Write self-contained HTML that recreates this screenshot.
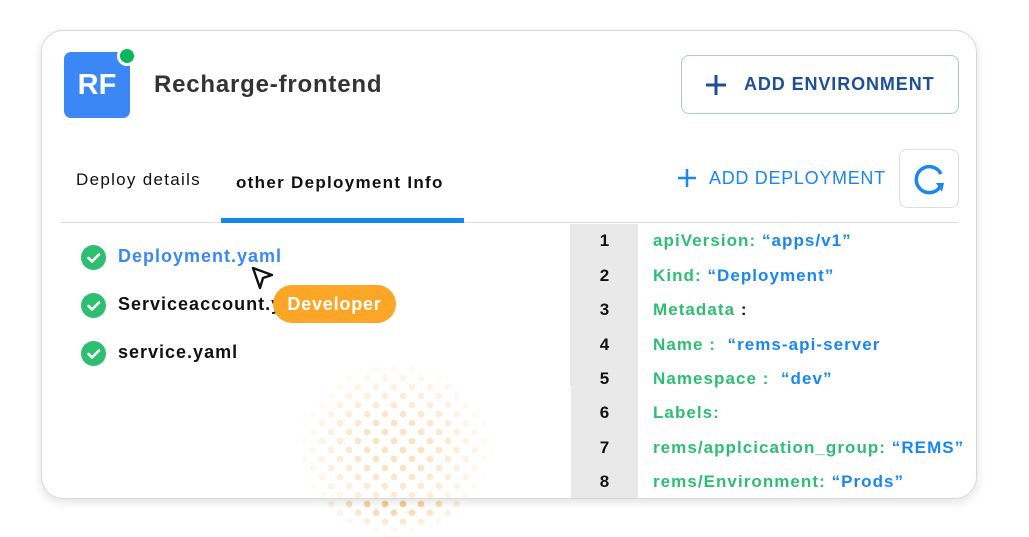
<!DOCTYPE html>
<html><head><style>
*{margin:0;padding:0;box-sizing:border-box}
body{width:1029px;height:537px;background:#fff;position:relative;overflow:hidden;font-family:"Liberation Sans",sans-serif}
.dots{position:absolute;left:295px;top:360px;width:200px;height:175px;
background-image:radial-gradient(circle,#f3a640 0 3px,transparent 3.6px),radial-gradient(circle,#f3a640 0 3px,transparent 3.6px);
background-size:18px 18px;background-position:0 0,9px 9px;
-webkit-mask-image:radial-gradient(ellipse 50% 50% at 50% 50%,#000 30%,rgba(0,0,0,.5) 70%,transparent 100%);
mask-image:radial-gradient(ellipse 50% 50% at 50% 50%,#000 30%,rgba(0,0,0,.5) 70%,transparent 100%)}
.card{position:absolute;left:41px;top:30px;width:936px;height:469px;border:1px solid #d8d8d8;border-radius:22px;background:rgba(255,255,255,.68);box-shadow:0 3px 10px rgba(0,0,0,.12);overflow:hidden}
.a{position:absolute}
.logo{left:22px;top:21px;width:66px;height:66px;background:#3b87f6;border-radius:7px;color:#fff;font-weight:bold;font-size:29px;text-align:center;line-height:66px}
.dot{left:75px;top:15px;width:20px;height:20px;border-radius:50%;background:#0bb55d;border:3px solid #fff}
.title{left:112px;top:40px;font-size:24px;color:#333;font-weight:600;letter-spacing:.8px}
.btn1{left:639px;top:24px;width:278px;height:59px;border:1.5px solid #a9c6ee;border-radius:8px;color:#1e4e98;font-weight:bold;font-size:18px;line-height:56px;letter-spacing:.9px}
.tab{font-size:17px;color:#111;white-space:nowrap}
.line{left:18px;top:191px;width:898px;height:1px;background:#ddd}
.ul{left:179px;top:187px;width:243px;height:5px;background:#1188f0}
.ref{left:857px;top:118px;width:60px;height:59px;border:1.5px solid #ddd;border-radius:8px}
.chk{width:25px;height:25px;border-radius:50%;background:#2dbe73}
.f{font-size:18px;font-weight:600;color:#111;letter-spacing:1px;white-space:nowrap}
.gut{left:529px;top:193px;width:67px;height:280px;background:#e9e9e9}
.vl{left:528px;top:193px;width:2px;height:162px;background:#e5e5e5}
.n{left:529px;width:67px;text-align:center;font-size:17px;font-weight:bold;color:#111}
.c{left:611px;font-size:17px;font-weight:600;color:#2dbe73;white-space:nowrap;letter-spacing:1.05px}
.c b{color:#1a86ee;font-weight:600}
.dev{left:231px;top:254px;width:123px;height:38px;border-radius:19px;background:#fca627;color:#fff;font-size:18px;font-weight:600;text-align:center;line-height:38px;letter-spacing:.8px}
</style></head><body>
<div class="dots"></div>
<div class="card">
<div class="a logo">RF</div><div class="a dot"></div>
<div class="a title">Recharge-frontend</div>
<div class="a btn1"><svg style="position:absolute;left:23px;top:18px" width="22" height="22"><path d="M11 1V21M1 11H21" stroke="#1e4e98" stroke-width="3"/></svg><span style="position:absolute;left:62px">ADD ENVIRONMENT</span></div>
<div class="a tab" style="left:34px;top:139px;letter-spacing:1.3px">Deploy details</div>
<div class="a tab" style="left:194px;top:142px;font-weight:600;letter-spacing:1.3px">other Deployment Info</div>
<div class="a" style="left:636px;top:137px;color:#1a86ee;font-size:18px"><svg style="position:absolute;left:0;top:1px" width="18" height="18"><path d="M9 0V18M0 9H18" stroke="#1a86ee" stroke-width="2.5"/></svg><span style="position:absolute;left:31px;white-space:nowrap;letter-spacing:.7px">ADD DEPLOYMENT</span></div>
<div class="a ref"><svg width="60" height="59" viewBox="0 0 60 59"><path d="M40 37 A13 13 0 1 1 41 24" fill="none" stroke="#1a86ee" stroke-width="3.5"/><path d="M36 33 L44 33 L42 42Z" fill="#1a86ee"/></svg></div>
<div class="a line"></div><div class="a ul"></div>
<div class="a gut"></div><div class="a vl"></div>
<div class="a chk" style="left:39px;top:214px"></div><div class="a chk" style="left:39px;top:262px"></div><div class="a chk" style="left:39px;top:310px"></div>
<svg class="a" style="left:39px;top:214px" width="25" height="122"><g fill="none" stroke="#fff" stroke-width="2.6" stroke-linecap="round" stroke-linejoin="round"><path d="M7.5 13l3.5 3.5 7-7"/><path d="M7.5 61l3.5 3.5 7-7"/><path d="M7.5 109l3.5 3.5 7-7"/></g></svg>
<div class="a f" style="left:76px;top:215px;color:#3b87f6">Deployment.yaml</div>
<div class="a f" style="left:76px;top:263px">Serviceaccount.y</div>
<div class="a f" style="left:76px;top:311px">service.yaml</div>
<div class="a dev">Developer</div>
<svg class="a" style="left:208px;top:234px" width="26" height="28"><path d="M3 3 L22 10 L13 13 L10 23Z" fill="#fff" stroke="#111" stroke-width="2.4" stroke-linejoin="round"/></svg>
<div class="a n" style="top:200px">1</div><div class="a c" style="top:200px">apiVersion: <b>“apps/v1”</b></div>
<div class="a n" style="top:235px">2</div><div class="a c" style="top:235px">Kind: <b>“Deployment”</b></div>
<div class="a n" style="top:269px">3</div><div class="a c" style="top:269px">Metadata <span style="color:#111">:</span></div>
<div class="a n" style="top:304px">4</div><div class="a c" style="top:304px">Name :&nbsp; <b>“rems-api-server</b></div>
<div class="a n" style="top:338px">5</div><div class="a c" style="top:338px">Namespace :&nbsp; <b>“dev”</b></div>
<div class="a n" style="top:372px">6</div><div class="a c" style="top:372px">Labels:</div>
<div class="a n" style="top:407px">7</div><div class="a c" style="top:407px">rems/applcication_group: <b>“REMS”</b></div>
<div class="a n" style="top:441px">8</div><div class="a c" style="top:441px">rems/Environment: <b>“Prods”</b></div>
</div>
</body></html>
